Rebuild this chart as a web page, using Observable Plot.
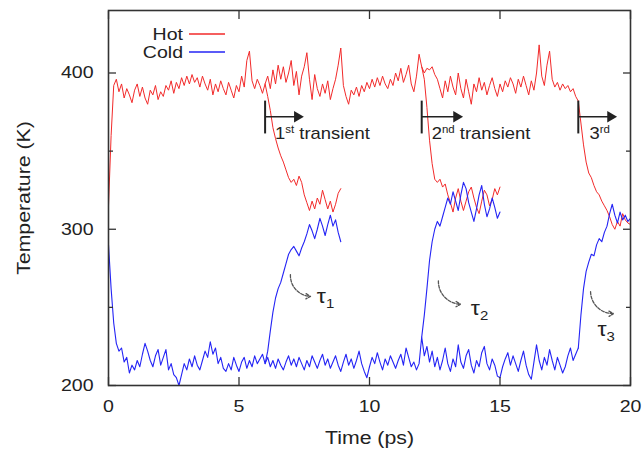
<!DOCTYPE html>
<html><head><meta charset="utf-8">
<script src="https://cdn.jsdelivr.net/npm/d3@7"></script>
<script src="https://cdn.jsdelivr.net/npm/@observablehq/plot@0.6"></script>
<style>
body{margin:0;background:#fff;}
#wrap{position:relative;width:644px;height:453px;}
#legend{position:absolute;left:0;top:0;pointer-events:none;}
</style></head><body><div id="wrap"></div>
<script>
const FONT = "'Liberation Sans', Arial, Helvetica, sans-serif";
const STRETCH = 1.15;
const HOT = "#f22a2a", COLD = "#2424f5";

// time step of all series (ps)
const step = 0.1;

// Hot reservoir, main trajectory 0–18 ps
const hotMainStart = 0;
const hotMain = [
  315,360,392,396,388,393,384,390,386,381,
  389,393,385,391,384,380,389,386,392,383,
  388,385,392,389,395,387,394,390,397,392,
  398,393,399,394,397,391,398,393,389,396,
  386,393,388,395,390,386,394,389,384,392,
  388,398,391,408,414,395,390,396,392,387,
  393,398,390,402,393,405,396,404,394,400,
  408,392,401,386,398,404,413,396,383,399,
  390,385,393,387,395,383,390,396,405,416,
  392,385,380,389,386,391,385,392,388,394,
  390,396,391,397,392,398,393,390,396,392,
  400,395,403,394,399,405,393,388,398,412,
  404,400,403,402,404,399,396,390,384,395,
  388,398,391,386,400,390,384,396,388,380,
  393,388,397,389,394,386,392,397,390,385,
  393,388,395,391,397,393,387,396,391,398,
  392,386,395,389,400,418,398,392,405,414,
  396,391,394,389,393,390,392,388,390,385,
  382
];
// Cold reservoir, main trajectory 0–18 ps
const coldMainStart = 0;
const coldMain = [
  290,262,240,227,222,224,215,218,208,213,
  210,216,212,220,227,222,216,212,219,223,
  213,218,223,210,214,207,205,200,207,214,
  210,217,212,219,213,210,216,222,218,228,
  220,224,214,218,211,209,214,210,218,213,
  209,215,218,211,216,212,219,214,217,220,
  214,218,212,216,211,217,213,210,215,219,
  213,217,212,218,214,210,216,212,219,215,
  211,216,220,213,217,211,215,219,213,209,
  215,220,213,217,211,216,222,214,209,205,
  212,218,214,221,215,210,217,213,219,215,
  211,216,220,213,224,218,212,215,210,214,
  231,219,225,215,222,212,218,210,216,224,
  214,209,217,212,226,215,211,219,223,213,
  208,216,212,221,225,214,210,217,213,206,
  205,212,217,221,213,219,214,209,216,222,
  213,207,204,215,226,216,210,218,213,223,
  216,210,218,213,208,212,219,224,216,220,
  224
];

// transients
const hotT1Start = 6;
const hotT1 = [393,385,376,365,358,352,347,343,338,333,330,332,328,334,330,322,317,312,318,313,320,316,325,319,313,318,311,316,323,326];
const coldT1Start = 6;
const coldT1 = [214,222,235,247,256,262,266,272,278,284,287,289,286,283,288,292,297,303,299,294,300,307,302,296,303,309,302,306,298,292];
const hotT2Start = 12;
const hotT2 = [404,396,378,357,342,332,330,332,327,329,322,317,311,320,326,318,312,318,324,327,320,314,310,318,325,322,315,319,326,322,327];
const coldT2Start = 12;
const coldT2 = [231,245,262,280,292,300,305,302,308,314,320,316,324,318,312,322,330,326,317,311,305,313,322,328,316,308,313,320,314,307,311];
const hotT3Start = 18;
const hotT3 = [382,368,354,343,336,333,328,324,322,318,315,312,308,303,300,305,302,310,306,304,303];
const coldT3Start = 18;
const coldT3 = [224,245,262,273,279,284,283,290,294,292,298,302,310,316,309,304,311,306,309,305,307];

// annotations
const transStarts = [6, 12, 18];
const transArrowEnd = [7.35, 13.45, 19.35];
const transBarLow = 361, transBarHigh = 382, transArrowY = 372;
const transNum = ["1", "2", "3"];
const transSup = ["st", "nd", "rd"];
const transRest = [" transient", " transient", ""];
const transLabelX = [6.4, 12.4, 18.45];
const transLabelY = 361;

const tauX1 = [6.97, 12.64, 18.47], tauY1 = [271, 267, 260];
const tauX2 = [7.74, 13.49, 19.35], tauY2 = [257, 252, 246];
const tauLabelX = [8.0, 13.9, 18.75], tauLabelY = [257, 249, 236];
const tauSub = ["1", "2", "3"];

// axes
const xTicks = [0, 5, 10, 15, 20];
const yTicks = [200, 300, 400];
const yMinor = [250, 350];
const xLabel = "Time (ps)", yLabel = "Temperature (K)";
const legendNames = ["Hot", "Cold"];

function series(values, start) {
  return values.map((v, i) => ({t: +(start + i * step).toFixed(3), T: v}));
}
const hotSegs = [series(hotMain, hotMainStart), series(hotT1, hotT1Start), series(hotT2, hotT2Start), series(hotT3, hotT3Start)];
const coldSegs = [series(coldMain, coldMainStart), series(coldT1, coldT1Start), series(coldT2, coldT2Start), series(coldT3, coldT3Start)];

const transData = transStarts.map((s, i) => ({s, e: transArrowEnd[i]}));
const tauData = tauX1.map((x, i) => ({x1: x, y1: tauY1[i], x2: tauX2[i], y2: tauY2[i]}));

// rich text (superscripts / subscripts) drawn through the plot's scales
function richText(xs, ys, base, small, tail, {size, smallSize, shift, anchor = "start"}) {
  return (index, scales) => {
    const g = d3.create("svg:g").attr("font-family", FONT).attr("fill", "#222");
    xs.forEach((xv, i) => {
      const yv = Array.isArray(ys) ? ys[i] : ys;
      const t = g.append("text")
        .attr("transform", `translate(${scales.x(xv)},${scales.y(yv)})`)
        .attr("dy", "0.35em").attr("font-size", size).attr("text-anchor", anchor);
      t.append("tspan").text(base[i]);
      t.append("tspan").attr("dy", shift).attr("font-size", smallSize).text(small[i]);
      if (tail[i]) t.append("tspan").attr("dy", -shift).text(tail[i]);
    });
    return g.node();
  };
}

const empty = () => "";

const chart = Plot.plot({
  width: 644, height: 453,
  marginTop: 10, marginBottom: 68, marginLeft: 108, marginRight: 14,
  x: {domain: [0, 20]},
  y: {domain: [200, 440]},
  style: {fontFamily: FONT, fontSize: "17px", color: "#222", background: "#fff", overflow: "visible"},
  marks: [
    Plot.axisX(xTicks, {anchor: "bottom", tickSize: 0, tickPadding: 14, label: xLabel, labelArrow: "none", labelAnchor: "center", labelOffset: 58, fontSize: 17}),
    Plot.axisY(yTicks, {anchor: "left", tickSize: 0, tickPadding: 15, label: yLabel, labelArrow: "none", labelAnchor: "center", labelOffset: 92, fontSize: 17}),
    ...hotSegs.map(d => Plot.line(d, {x: "t", y: "T", stroke: HOT, strokeWidth: 1})),
    ...coldSegs.map(d => Plot.line(d, {x: "t", y: "T", stroke: COLD, strokeWidth: 1.1})),
    Plot.axisX(xTicks, {anchor: "bottom", tickSize: -8, tickFormat: empty, label: null, stroke: "#333", strokeWidth: 1.3}),
    Plot.axisX(xTicks, {anchor: "top", tickSize: -8, tickFormat: empty, label: null, stroke: "#333", strokeWidth: 1.3}),
    Plot.axisY(yTicks, {anchor: "left", tickSize: -8, tickFormat: empty, label: null, stroke: "#333", strokeWidth: 1.3}),
    Plot.axisY(yTicks, {anchor: "right", tickSize: -8, tickFormat: empty, label: null, stroke: "#333", strokeWidth: 1.3}),
    Plot.axisY(yMinor, {anchor: "left", tickSize: -5, tickFormat: empty, label: null, stroke: "#333", strokeWidth: 1.3}),
    Plot.axisY(yMinor, {anchor: "right", tickSize: -5, tickFormat: empty, label: null, stroke: "#333", strokeWidth: 1.3}),
    Plot.frame({stroke: "#333", strokeWidth: 1.6}),
    // transient markers
    Plot.ruleX(transData, {x: "s", y1: transBarLow, y2: transBarHigh, stroke: "#222", strokeWidth: 2}),
    Plot.link(transData, {x1: "s", x2: "e", y1: transArrowY, y2: transArrowY, stroke: "#222", strokeWidth: 1.6}),
    Plot.dot(transData, {x: "e", y: transArrowY, symbol: "triangle", rotate: 90, r: 4.2, fill: "#222", stroke: "none", dx: -3}),
    richText(transLabelX, transLabelY, transNum, transSup, transRest, {size: 16, smallSize: 10, shift: -6}),
    // tau arrows
    Plot.arrow(tauData, {x1: "x1", y1: "y1", x2: "x2", y2: "y2", bend: -45, stroke: "#555", strokeWidth: 1.3, strokeDasharray: "3,1.5", headLength: 6}),
    richText(tauLabelX, tauLabelY, tauLabelX.map(() => "τ"), tauSub, tauSub.map(() => ""), {size: 20, smallSize: 13, shift: 5})
  ]
});

// axis titles: exact text, slightly larger
chart.querySelectorAll("text").forEach(t => {
  const s = t.textContent;
  if (s.includes("Time")) { t.textContent = xLabel; t.setAttribute("font-size", 18.5); }
  if (s.includes("Temperature")) { t.textContent = yLabel; t.setAttribute("font-size", 18.5); }
});
// widen glyphs horizontally around each text's own anchor
chart.querySelectorAll("text").forEach(t => {
  const tr = t.getAttribute("transform");
  if (tr) t.setAttribute("transform", tr + ` scale(${STRETCH},1)`);
});

const wrap = document.getElementById("wrap");
wrap.appendChild(chart);

// legend (inside the frame, top-left)
const leg = d3.create("svg").attr("id", "legend").attr("width", 644).attr("height", 453)
  .attr("font-family", FONT).attr("font-size", 17).attr("fill", "#222");
const legColors = [HOT, COLD];
legendNames.forEach((n, i) => {
  const yy = 34 + i * 18;
  leg.append("text").attr("transform", `translate(183,${yy}) scale(${STRETCH},1)`).attr("dy", "0.35em").attr("text-anchor", "end").text(n);
  leg.append("line").attr("x1", 189).attr("x2", 225).attr("y1", yy).attr("y2", yy).attr("stroke", legColors[i]).attr("stroke-width", 1.6);
});
wrap.appendChild(leg.node());
</script></body></html>
